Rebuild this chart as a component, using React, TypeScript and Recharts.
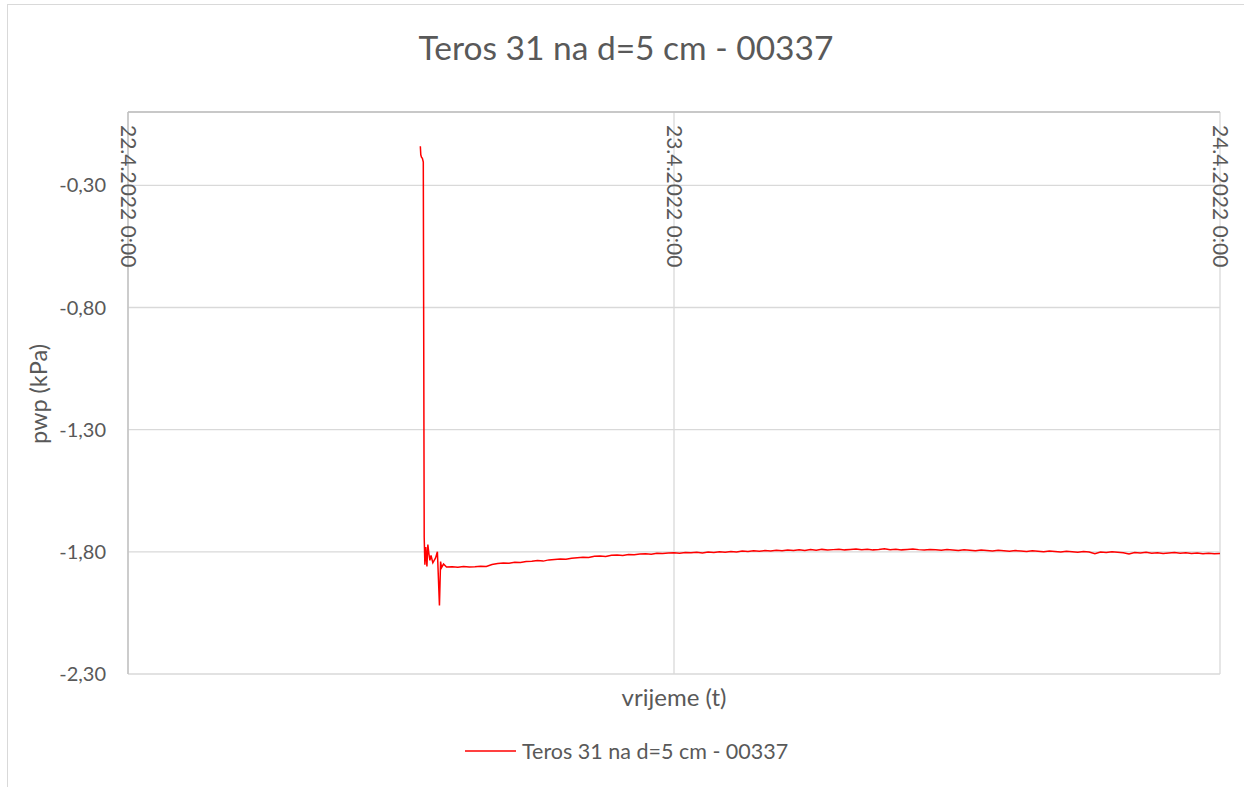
import { LineChart, Line, XAxis, YAxis, CartesianGrid } from 'recharts';

// hours since 22.4.2022 0:00
const hours = [
  12.85, 12.87, 12.9, 12.94, 12.98, 13.02, 13.05, 13.09, 13.14, 13.18, 13.23, 13.27, 13.32, 13.4, 13.52, 13.6, 13.69,
  13.74, 13.78, 13.87,
  14.0, 14.25, 14.5, 14.75, 15.0, 15.25, 15.5, 15.75, 16.0, 16.25, 16.5, 16.75, 17.0, 17.25, 17.5, 17.75,
  18.0, 18.25, 18.5, 18.75, 19.0, 19.25, 19.5, 19.75, 20.0, 20.25, 20.5, 20.75, 21.0, 21.25, 21.5, 21.75,
  22.0, 22.25, 22.5, 22.75, 23.0, 23.25, 23.5, 23.75, 24.0, 24.25, 24.5, 24.75, 25.0, 25.25, 25.5, 25.75,
  26.0, 26.25, 26.5, 26.75, 27.0, 27.25, 27.5, 27.75, 28.0, 28.25, 28.5, 28.75, 29.0, 29.25, 29.5, 29.75,
  30.0, 30.25, 30.5, 30.75, 31.0, 31.25, 31.5, 31.75, 32.0, 32.25, 32.5, 32.75, 33.0, 33.25, 33.5, 33.75,
  34.0, 34.25, 34.5, 34.75, 35.0, 35.25, 35.5, 35.75, 36.0, 36.25, 36.5, 36.75, 37.0, 37.25, 37.5, 37.75,
  38.0, 38.25, 38.5, 38.75, 39.0, 39.25, 39.5, 39.75, 40.0, 40.25, 40.5, 40.75, 41.0, 41.25, 41.5, 41.75,
  42.0, 42.25, 42.5, 42.75, 43.0, 43.25, 43.5, 43.75, 44.0, 44.25, 44.5, 44.75, 45.0, 45.25, 45.5, 45.75,
  46.0, 46.25, 46.5, 46.75, 47.0, 47.25, 47.5, 47.75, 48.0,
];

const pwp = [
  -0.14, -0.175, -0.185, -0.19, -0.205, -1.74, -1.853, -1.78, -1.86, -1.77, -1.81, -1.835, -1.815, -1.845, -1.825, -1.8, -2.02,
  -1.84, -1.865, -1.85,
  -1.862, -1.861, -1.863, -1.86, -1.862, -1.861, -1.859, -1.86, -1.852, -1.848, -1.846, -1.847, -1.843, -1.844, -1.84, -1.839,
  -1.836, -1.838, -1.833, -1.831, -1.829, -1.83, -1.826, -1.824, -1.822, -1.823, -1.818, -1.817, -1.819, -1.814, -1.813, -1.815,
  -1.811, -1.812, -1.809, -1.808, -1.81, -1.806, -1.807, -1.805, -1.804, -1.806, -1.803, -1.804, -1.802, -1.805, -1.801, -1.803,
  -1.8, -1.802, -1.799, -1.801, -1.797, -1.799, -1.796, -1.798, -1.795, -1.797, -1.794, -1.796, -1.793, -1.795, -1.792, -1.795,
  -1.791, -1.794, -1.79, -1.793, -1.791, -1.789, -1.792, -1.79, -1.788, -1.791, -1.789, -1.792, -1.79, -1.787, -1.791, -1.789,
  -1.792, -1.79, -1.788, -1.791, -1.793, -1.79, -1.792, -1.794, -1.791, -1.793, -1.795, -1.792, -1.794, -1.796, -1.793, -1.795,
  -1.797, -1.794, -1.796, -1.798, -1.795, -1.797, -1.799, -1.796, -1.798, -1.8, -1.797, -1.799, -1.801, -1.798, -1.8, -1.802,
  -1.799, -1.801, -1.808, -1.801, -1.803, -1.8, -1.802, -1.804, -1.809, -1.803, -1.805, -1.802, -1.806, -1.804, -1.807, -1.805,
  -1.803, -1.806, -1.804, -1.807, -1.805, -1.808, -1.806, -1.808, -1.807,
];

const xTicks = [0, 24, 48];
const xTickLabels = ['22.4.2022 0:00', '23.4.2022 0:00', '24.4.2022 0:00'];
const yTicks = [-2.3, -1.8, -1.3, -0.8, -0.3];

const SERIES_NAME = 'Teros 31 na d=5 cm - 00337';
const FONT = 'Lato, "Open Sans", sans-serif';
const TEXT = '#595959';

const data = hours.map((h, i) => ({ t: h, v: pwp[i] }));

function DateTick(props: any) {
  const { x, y, payload } = props;
  const idx = xTicks.indexOf(payload?.value);
  return (
    <text
      transform={`translate(${x + 1},${y + 13}) rotate(90)`}
      textAnchor="start"
      dominantBaseline="central"
      fill={TEXT}
      fontSize={21}
      fontFamily={FONT}
    >
      {xTickLabels[idx]}
    </text>
  );
}

export default function App() {
  return (
    <div
      style={{ position: 'absolute', left: 0, top: 0, width: 1244, height: 787, overflow: 'hidden', background: '#fff' }}
    >
      <div
        style={{ position: 'absolute', left: 7, top: 4, width: 1260, height: 800, border: '1px solid #d9d9d9' }}
      />
      <div
        style={{
          position: 'absolute',
          left: 0,
          width: 1252,
          top: 27,
          textAlign: 'center',
          fontFamily: FONT,
          fontSize: 33.5,
          color: TEXT,
        }}
      >
        {SERIES_NAME}
      </div>
      <div
        style={{
          position: 'absolute',
          left: 38,
          top: 394,
          transform: 'translate(-50%, -50%) rotate(-90deg)',
          fontFamily: FONT,
          fontSize: 23.5,
          color: TEXT,
          whiteSpace: 'nowrap',
        }}
      >
        pwp (kPa)
      </div>
      <div
        style={{
          position: 'absolute',
          left: 674,
          top: 696,
          transform: 'translate(-50%, -50%)',
          fontFamily: FONT,
          fontSize: 24,
          color: TEXT,
          whiteSpace: 'nowrap',
        }}
      >
        vrijeme (t)
      </div>
      <div
        style={{
          position: 'absolute',
          left: 465,
          top: 751,
          transform: 'translateY(-50%)',
          display: 'flex',
          alignItems: 'center',
          fontFamily: FONT,
          whiteSpace: 'nowrap',
        }}
      >
        <svg width={51} height={4} style={{ marginRight: 6 }}>
          <line x1={0} y1={2} x2={51} y2={2} stroke="#ff0000" strokeWidth={1.5} />
        </svg>
        <span style={{ color: TEXT, fontSize: 21.5 }}>{SERIES_NAME}</span>
      </div>
      <div style={{ position: 'absolute', left: 0, top: 0 }}>
        <LineChart width={1244} height={787} data={data} margin={{ top: 92, right: 24, bottom: 113, left: 0 }}>
          <CartesianGrid stroke="#d9d9d9" strokeWidth={1.3} />
          <XAxis
            dataKey="t"
            type="number"
            orientation="top"
            domain={[0, 48]}
            ticks={xTicks}
            height={20}
            tickSize={0}
            tickMargin={0}
            tickLine={false}
            axisLine={{ stroke: '#bfbfbf', strokeWidth: 1.3 }}
            tick={(p: any) => <DateTick {...p} />}
            interval={0}
            allowDataOverflow
          />
          <YAxis
            type="number"
            domain={[-2.3, 0]}
            ticks={yTicks}
            width={128}
            tickSize={0}
            tickMargin={22}
            tickLine={false}
            axisLine={{ stroke: '#bfbfbf', strokeWidth: 1.3 }}
            tick={{ fill: TEXT, fontSize: 20, fontFamily: FONT }}
            tickFormatter={(v: number) => v.toFixed(2).replace('.', ',')}
            interval={0}
            allowDataOverflow
          />
          <Line
            dataKey="v"
            name={SERIES_NAME}
            type="linear"
            stroke="#ff0000"
            strokeWidth={1.5}
            dot={false}
            isAnimationActive={false}
          />
        </LineChart>
      </div>
    </div>
  );
}
